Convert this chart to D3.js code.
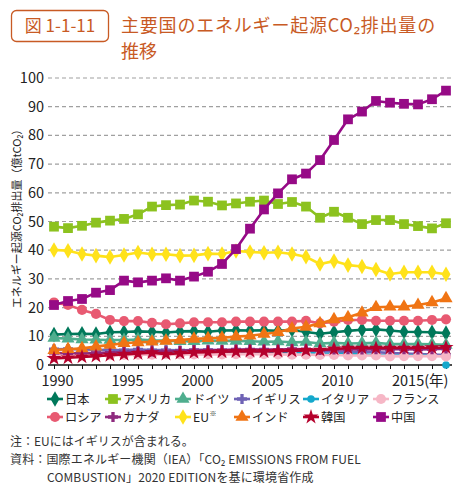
<!DOCTYPE html>
<html><head><meta charset="utf-8">
<script src="https://cdn.jsdelivr.net/npm/d3@7"></script>
<style>
html,body{margin:0;padding:0;background:#fff;}
svg{display:block;font-family:"Noto Sans CJK JP","Noto Sans",sans-serif;}
</style></head>
<body>
<svg id="c" width="462" height="492"></svg>
<script>
const years = d3.range(1990, 2019);
const yTicks = [0,10,20,30,40,50,60,70,80,90,100];
const xTickYears = [1990,1995,2000,2005,2010,2015];
const xTickLabels = ["1990","1995","2000","2005","2010","2015(年)"];

const japan   = [10.6,10.8,10.9,10.8,11.4,11.5,11.7,11.6,11.3,11.7,11.8,11.6,12.0,12.1,12.0,12.1,11.9,12.3,11.5,10.9,11.4,11.9,12.3,12.4,12.0,11.6,11.5,11.4,11.1];
const usa     = [48.2,47.7,48.5,49.6,50.3,50.9,52.5,55.2,55.7,55.9,57.3,56.9,55.6,56.3,56.9,57.3,56.1,56.8,55.2,51.3,53.4,51.3,49.1,50.5,50.5,49.1,48.4,47.6,49.4];
const germany = [9.4,9.2,8.9,8.8,8.7,8.7,8.9,8.6,8.5,8.3,8.3,8.5,8.4,8.4,8.3,8.1,8.2,7.9,8.0,7.5,7.7,7.5,7.6,7.7,7.3,7.3,7.3,7.2,7.0];
const uk      = [5.5,5.6,5.4,5.3,5.2,5.2,5.4,5.2,5.2,5.1,5.2,5.3,5.1,5.2,5.2,5.2,5.2,5.1,5.0,4.6,4.8,4.4,4.6,4.5,4.2,4.0,3.8,3.6,3.5];
const italy   = [3.9,3.9,3.9,3.8,3.8,4.1,4.0,4.1,4.2,4.2,4.2,4.2,4.3,4.5,4.6,4.5,4.4,4.4,4.3,3.8,3.9,3.8,3.7,3.4,3.2,3.3,3.3,3.2,0];
const france  = [3.5,3.7,3.6,3.4,3.4,3.5,3.6,3.6,3.8,3.7,3.7,3.8,3.7,3.8,3.8,3.8,3.7,3.6,3.6,3.5,3.5,3.3,3.3,3.3,3.0,3.1,3.1,3.1,3.0];
const russia  = [21.8,20.9,19.2,17.8,15.7,15.3,15.3,14.7,14.2,14.5,14.9,14.9,14.9,15.1,15.1,15.1,15.1,15.1,15.4,14.5,15.1,15.7,15.7,15.4,15.4,15.4,15.4,15.7,15.9];
const canada  = [4.2,4.1,4.2,4.2,4.3,4.5,4.6,4.7,4.8,4.9,5.2,5.1,5.2,5.4,5.4,5.4,5.3,5.6,5.5,5.2,5.4,5.5,5.4,5.5,5.5,5.5,5.4,5.5,5.7];
const eu      = [40.1,39.8,38.7,38.1,37.6,38.3,39.2,38.6,38.6,38.1,38.2,38.8,38.7,39.7,39.4,39.1,39.3,38.7,37.7,35.2,36.2,34.8,34.3,33.3,31.7,32.3,32.3,32.3,31.6];
const india   = [5.2,5.5,5.8,6.4,7.0,7.6,7.9,8.1,8.4,8.7,9.1,9.3,9.5,9.9,10.2,10.8,11.4,12.7,13.3,14.5,15.9,16.6,18.2,20.1,20.3,20.3,20.9,21.8,23.2];
const korea   = [2.3,2.5,2.8,3.1,3.4,3.7,4.0,4.3,3.8,4.1,4.4,4.5,4.6,4.7,4.8,4.7,4.8,4.9,5.1,5.2,5.6,5.9,5.9,5.9,5.9,5.9,5.9,6.0,6.1];
const china   = [20.9,22.3,23.0,25.2,26.1,29.4,28.8,29.4,30.2,29.4,30.8,32.5,35.2,40.4,47.5,54.2,59.8,64.7,66.7,71.4,78.4,85.6,88.3,92.0,91.4,91.0,90.8,92.6,95.6];

const seriesNames = ["日本","アメリカ","ドイツ","イギリス","イタリア","フランス","ロシア","カナダ","EU","インド","韓国","中国"];
const seriesValues = [japan,usa,germany,uk,italy,france,russia,canada,eu,india,korea,china];
const seriesColors = ["#00785a","#8cc21f","#4fae8e","#6f63b5","#14a8cc","#f6b7c6","#e85a72","#8e2a7e","#ffe21a","#f07414","#b5002c","#960a86"];
const seriesShapes = ["diamond","square","triangle","cross","circleS","circle","circle","cross","diamond","triangle","star","square"];

const svg = d3.select("#c");
const TITLE = "#c85a24";

// Title
svg.append("rect").attr("x",11.5).attr("y",10.5).attr("width",97).attr("height",31).attr("rx",5)
  .attr("fill","#fff").attr("stroke",TITLE).attr("stroke-width",1.3);
svg.append("text").attr("x",60).attr("y",32).attr("text-anchor","middle").attr("fill",TITLE)
  .attr("font-size",17).text("図 1-1-11");
svg.append("text").attr("x",121).attr("y",32).attr("fill",TITLE).attr("font-size",18)
  .attr("letter-spacing",0.8).text("主要国のエネルギー起源CO₂排出量の");
svg.append("text").attr("x",121).attr("y",58).attr("fill",TITLE).attr("font-size",18).text("推移");

// Scales
const x = d3.scaleLinear().domain([1990,2018]).range([54,446]);
const y = d3.scaleLinear().domain([0,100]).range([365,78]);

// Grid
svg.append("g").selectAll("line").data(yTicks.filter(d=>d>0)).join("line")
  .attr("x1",48).attr("x2",452).attr("y1",d=>y(d)).attr("y2",d=>y(d))
  .attr("stroke","#a0a0a0").attr("stroke-width",1.2).attr("stroke-dasharray","4,3");

// Y tick labels
svg.append("g").selectAll("text").data(yTicks).join("text")
  .attr("x",44).attr("y",d=>y(d)+5).attr("text-anchor","end").attr("font-size",14.5).attr("fill","#222")
  .text(d=>d);

// Y axis label
svg.append("text").attr("transform","translate(21,216) rotate(-90)")
  .attr("text-anchor","middle").attr("font-size",11).attr("fill","#222")
  .text("エネルギー起源CO₂排出量（億tCO₂）");

// X axis
const xAxis = d3.axisBottom(x).tickValues(years).tickSize(4).tickFormat("");
const gx = svg.append("g").attr("transform",`translate(0,${y(0)})`).call(xAxis);
gx.select(".domain").attr("d","M48,0H452").attr("stroke","#111").attr("stroke-width",1.5);
gx.selectAll(".tick line").attr("stroke","#111").attr("stroke-width",1);
svg.append("g").selectAll("text").data(xTickYears).join("text")
  .attr("x",(d,i)=> i===5 ? x(d)-12 : x(d)+3.5).attr("y",386)
  .attr("text-anchor",(d,i)=> i===5 ? "start":"middle")
  .attr("font-size",14.5).attr("fill","#222").text((d,i)=>xTickLabels[i]);

// Symbols
function sym(shape){
  switch(shape){
    case "diamond": return d3.symbol(d3.symbolDiamond,70)();
    case "square": return d3.symbol(d3.symbolSquare,95)();
    case "triangle": return d3.symbol(d3.symbolTriangle,75)();
    case "cross": return d3.symbol(d3.symbolCross,55)();
    case "star": return d3.symbol(d3.symbolStar,70)();
    case "circleS": return d3.symbol(d3.symbolCircle,45)();
    default: return d3.symbol(d3.symbolCircle,80)();
  }
}

const line = d3.line().defined(d=>d[1]>0).x(d=>x(d[0])).y(d=>y(d[1]));
const plot = svg.append("g");
seriesValues.forEach((vals,si)=>{
  const pts = years.map((yr,i)=>[yr,vals[i]]);
  const g = plot.append("g");
  g.append("path").attr("d",line(pts)).attr("fill","none")
    .attr("stroke",seriesColors[si]).attr("stroke-width",2.6).attr("stroke-linejoin","round");
  g.selectAll("path.m").data(pts).join("path").attr("class","m")
    .attr("transform",d=>`translate(${x(d[0])},${y(d[1])})`)
    .attr("d",sym(seriesShapes[si])).attr("fill",seriesColors[si]);
});

// Legend
const legX = [47,105,175,234,303,373];
const legY = [399,417];
const leg = svg.append("g");
seriesNames.forEach((name,i)=>{
  const lx = legX[i%6], ly = legY[Math.floor(i/6)];
  const g = leg.append("g").attr("transform",`translate(${lx},${ly})`);
  g.append("line").attr("x1",0).attr("x2",16).attr("y1",0).attr("y2",0)
    .attr("stroke",seriesColors[i]).attr("stroke-width",2.6);
  g.append("path").attr("transform","translate(8,0)").attr("d",sym(seriesShapes[i])).attr("fill",seriesColors[i]);
  const t = g.append("text").attr("x",18).attr("y",5).attr("font-size",12.2).attr("fill","#222").text(name);
  if(name==="EU"){
    const w = t.node().getComputedTextLength();
    g.append("text").attr("x",18+w+0.5).attr("y",-1).attr("font-size",7).attr("fill","#222").text("※");
  }
});

// Notes
const notes = svg.append("g").attr("font-size",12).attr("fill","#333");
notes.append("text").attr("x",10).attr("y",446).text("注：EUにはイギリスが含まれる。");
notes.append("text").attr("x",10).attr("y",464).attr("letter-spacing",0.15).text("資料：国際エネルギー機関（IEA）「CO₂ EMISSIONS FROM FUEL");
notes.append("text").attr("x",47).attr("y",482).attr("letter-spacing",0.15).text("COMBUSTION」2020 EDITIONを基に環境省作成");
</script>
</body></html>
